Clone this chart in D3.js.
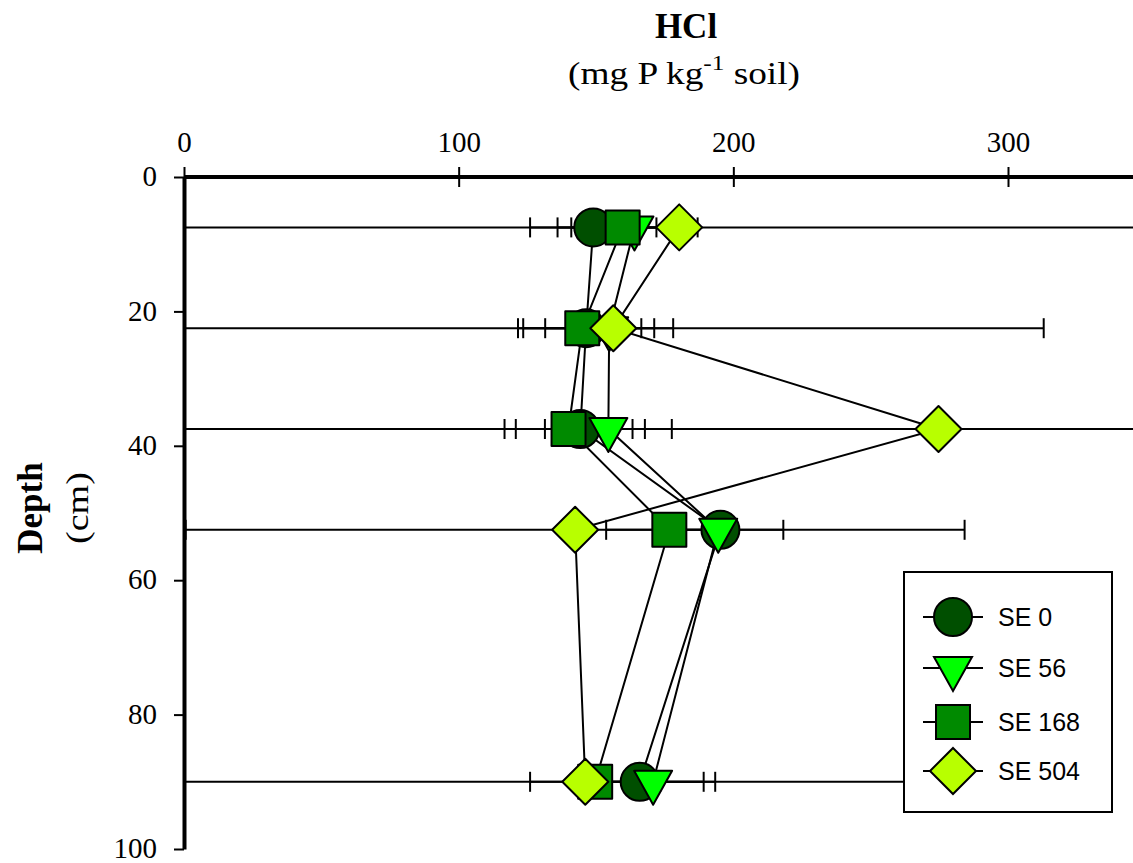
<!DOCTYPE html>
<html>
<head>
<meta charset="utf-8">
<script src="https://cdn.jsdelivr.net/npm/d3@7"></script>
<style>
  html, body { margin: 0; padding: 0; background: #fff; }
  svg { display: block; }
</style>
</head>
<body>
<svg id="chart" width="1133" height="863"></svg>
<script>
// Sampling depths (cm) and HCl-extractable P (mg P kg-1 soil) per treatment
const depths = [7.5, 22.5, 37.5, 52.5, 90];
const seriesNames = ["SE 0", "SE 56", "SE 168", "SE 504"];
const se0 = [149, 146.4, 144.3, 195.3, 165.9];
const se0Err = [23, 24.8, 23.5, 22.9, 23.3];
const se56 = [164, 154.8, 154.5, 194.5, 170.8];
const se56Err = [23, 23.3, 23.1, 5, 22.6];
const se168 = [159.7, 145, 140, 176.7, 149.7];
const se168Err = [23.7, 21.5, 23.3, 23, 23.7];
const se504 = [180.3, 156.3, 274.7, 142.4, 146.1];
const se504Err = [185, 156.7, 285, 141.8, 150];
const xTicks = [0, 100, 200, 300];
const yTicks = [0, 20, 40, 60, 80, 100];

const values = [se0, se56, se168, se504];
const errors = [se0Err, se56Err, se168Err, se504Err];
const fills = ["#004f00", "#00ff00", "#008a00", "#b8ff00"];
const shapes = ["circle", "triangle", "square", "diamond"];

const svg = d3.select("#chart");
const x = d3.scaleLinear().domain([0, 300]).range([184, 1008]);
const y = d3.scaleLinear().domain([0, 100]).range([177, 849]);
const xMax = x.invert(1140);

const series = seriesNames.map((name, i) => ({
  name, fill: fills[i], shape: shapes[i],
  points: depths.map((d, j) => ({ depth: d, v: values[i][j], e: errors[i][j] }))
}));

function markerPath(shape) {
  if (shape === "triangle") return "M-19,-11L19,-11L0,23Z";
  if (shape === "square") return "M-17,-17H17V17H-17Z";
  if (shape === "diamond") return "M0,-23L23,0L0,23L-23,0Z";
  return d3.symbol(d3.symbolCircle, Math.PI * 19 * 19)();
}

// Clip the plotting area at the depth axis
svg.append("defs").append("clipPath").attr("id", "plotClip")
  .append("rect").attr("x", x(0)).attr("y", 150).attr("width", 1000).attr("height", 720);

const plot = svg.append("g").attr("clip-path", "url(#plotClip)");

// Horizontal error bars
series.forEach(s => {
  s.points.forEach(p => {
    const lo = p.v - p.e, hi = p.v + p.e;
    plot.append("line")
      .attr("x1", x(Math.max(lo, -5))).attr("x2", x(Math.min(hi, xMax)))
      .attr("y1", y(p.depth)).attr("y2", y(p.depth))
      .attr("stroke", "#000").attr("stroke-width", 2);
    [lo, hi].forEach(c => {
      if (c > 0 && c < xMax) {
        plot.append("line")
          .attr("x1", x(c)).attr("x2", x(c))
          .attr("y1", y(p.depth) - 10).attr("y2", y(p.depth) + 10)
          .attr("stroke", "#000").attr("stroke-width", 2);
      }
    });
  });
});

// Profile lines
const line = d3.line().x(p => x(p.v)).y(p => y(p.depth));
series.forEach(s => {
  plot.append("path").attr("d", line(s.points))
    .attr("fill", "none").attr("stroke", "#000").attr("stroke-width", 2);
});

// Markers
series.forEach(s => {
  plot.selectAll(null).data(s.points).enter().append("path")
    .attr("d", markerPath(s.shape))
    .attr("transform", p => `translate(${x(p.v)},${y(p.depth)})`)
    .attr("fill", s.fill).attr("stroke", "#000").attr("stroke-width", 2)
    .attr("stroke-linejoin", "round");
});

const serif = "'Liberation Serif', 'Times New Roman', serif";

// Top concentration axis
const xAxis = svg.append("g").attr("transform", `translate(0,${y(0)})`)
  .call(d3.axisTop(x).tickValues(xTicks).tickSizeInner(10).tickSizeOuter(0).tickPadding(15));
xAxis.select(".domain").attr("d", `M${x(0)},0H1140`).attr("stroke-width", 4);
xAxis.selectAll(".tick line").attr("y1", -10).attr("y2", 10).attr("stroke-width", 2);
xAxis.selectAll(".tick text")
  .attr("font-family", serif).attr("font-size", 29).attr("fill", "#000");

// Left depth axis
const yAxis = svg.append("g").attr("transform", `translate(${x(0)},0)`)
  .call(d3.axisLeft(y).tickValues(yTicks).tickSizeInner(10).tickSizeOuter(0).tickPadding(17));
yAxis.select(".domain").attr("stroke-width", 4);
yAxis.selectAll(".tick line").attr("stroke-width", 2);
yAxis.selectAll(".tick text")
  .attr("font-family", serif).attr("font-size", 29).attr("fill", "#000")
  .attr("dy", "0.3em");

// Titles
svg.append("text").attr("x", 686).attr("y", 38).attr("text-anchor", "middle")
  .attr("font-family", serif).attr("font-weight", "bold").attr("font-size", 35)
  .text("HCl");
const sub = svg.append("text").attr("x", 568).attr("y", 84)
  .attr("font-family", serif).attr("font-size", 31)
  .attr("textLength", 232).attr("lengthAdjust", "spacingAndGlyphs");
sub.append("tspan").text("(mg P kg");
sub.append("tspan").attr("dy", -14).attr("font-size", 21).text("-1");
sub.append("tspan").attr("dy", 14).text(" soil)");

svg.append("text").attr("transform", "translate(42,508) rotate(-90)")
  .attr("text-anchor", "middle").attr("font-family", serif)
  .attr("font-weight", "bold").attr("font-size", 35).text("Depth");
svg.append("text").attr("transform", "translate(88,508) rotate(-90)")
  .attr("text-anchor", "middle").attr("font-family", serif)
  .attr("font-size", 31).attr("textLength", 72).attr("lengthAdjust", "spacingAndGlyphs")
  .text("(cm)");

// Legend
const legend = svg.append("g");
legend.append("rect").attr("x", 904).attr("y", 572).attr("width", 208).attr("height", 240)
  .attr("fill", "#fff").attr("stroke", "#000").attr("stroke-width", 2);
const legendY = [617, 668, 722, 771];
series.forEach((s, i) => {
  const g = legend.append("g").attr("transform", `translate(953,${legendY[i]})`);
  g.append("line").attr("x1", -30).attr("x2", 30).attr("stroke", "#000").attr("stroke-width", 2);
  g.append("path").attr("d", markerPath(s.shape))
    .attr("fill", s.fill).attr("stroke", "#000").attr("stroke-width", 2);
  g.append("text").attr("x", 45).attr("dy", "0.36em")
    .attr("font-family", "'Liberation Sans', Arial, sans-serif").attr("font-size", 25)
    .text(s.name);
});
</script>
</body>
</html>
